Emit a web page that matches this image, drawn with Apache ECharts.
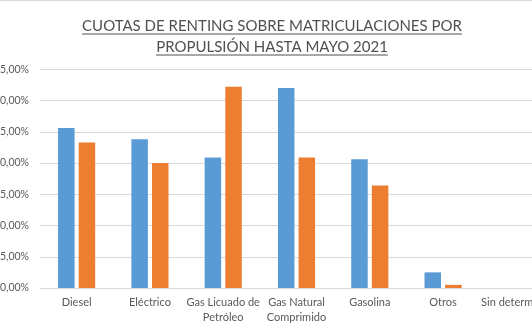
<!DOCTYPE html>
<html><head><meta charset="utf-8">
<script src="https://cdn.jsdelivr.net/npm/echarts@6/dist/echarts.min.js"></script>
<style>
html,body{margin:0;padding:0;width:532px;height:325px;overflow:hidden;background:#fff;}
#c{position:absolute;left:-10px;top:0;width:580px;height:325px;}
</style></head><body>
<div id="c"></div>
<script>
var categories = ['Diesel','Eléctrico','Gas Licuado de\nPetróleo','Gas Natural\nComprimido','Gasolina','Otros','Sin determinar'];
var serieA = [25.6, 23.8, 20.9, 32.0, 20.6, 2.5, 0];
var serieB = [23.3, 20.0, 32.2, 20.9, 16.4, 0.5, 0];
var titleLines = ['CUOTAS DE RENTING SOBRE MATRICULACIONES POR','PROPULSIÓN HASTA MAYO 2021'];

var FONT = 'Lato';
var ctx = document.createElement('canvas').getContext('2d');
function tw(t, size){ ctx.font = size + 'px ' + FONT; return ctx.measureText(t).width; }
var tSize = 15;
var cx = 282;
var graphics = [{type:'rect', shape:{x:0,y:0,width:580,height:1}, style:{fill:'#d9d9d9'}}];
var ys = [26.5, 47.5];
titleLines.forEach(function(t,i){
  var w = tw(t, tSize);
  graphics.push({type:'text', x:cx, y:ys[i], style:{text:t, font: tSize+'px '+FONT, fill:'#505050', align:'center', verticalAlign:'middle'}});
  graphics.push({type:'line', shape:{x1:cx-w/2, y1:ys[i]+7.5, x2:cx+w/2, y2:ys[i]+7.5}, style:{stroke:'#505050', lineWidth:1}});
});

var chart = echarts.init(document.getElementById('c'), null, {renderer:'canvas'});
chart.setOption({
  animation:false,
  graphic: graphics,
  grid:{left:50, right:17, top:69.3, bottom:35, containLabel:false},
  xAxis:{type:'category', data:categories,
    axisLine:{lineStyle:{color:'#d9d9d9'}}, axisTick:{show:false},
    axisLabel:{color:'#595959', fontFamily:FONT, fontSize:11, lineHeight:15, interval:0, margin:7}},
  yAxis:{type:'value', min:0, max:35, interval:5,
    axisLabel:{color:'#595959', fontFamily:FONT, fontSize:10.5, margin:11,
      formatter:function(v){return v.toFixed(2).replace('.',',')+'%';}},
    splitLine:{lineStyle:{color:'#d9d9d9'}}, axisLine:{show:false}, axisTick:{show:false}},
  series:[
    {type:'bar', data:serieA, itemStyle:{color:'#5B9BD5'}, barWidth:16.5, barGap:'25%'},
    {type:'bar', data:serieB, itemStyle:{color:'#ED7D31'}, barWidth:16.5, barGap:'25%'}
  ]
});
</script></body></html>
